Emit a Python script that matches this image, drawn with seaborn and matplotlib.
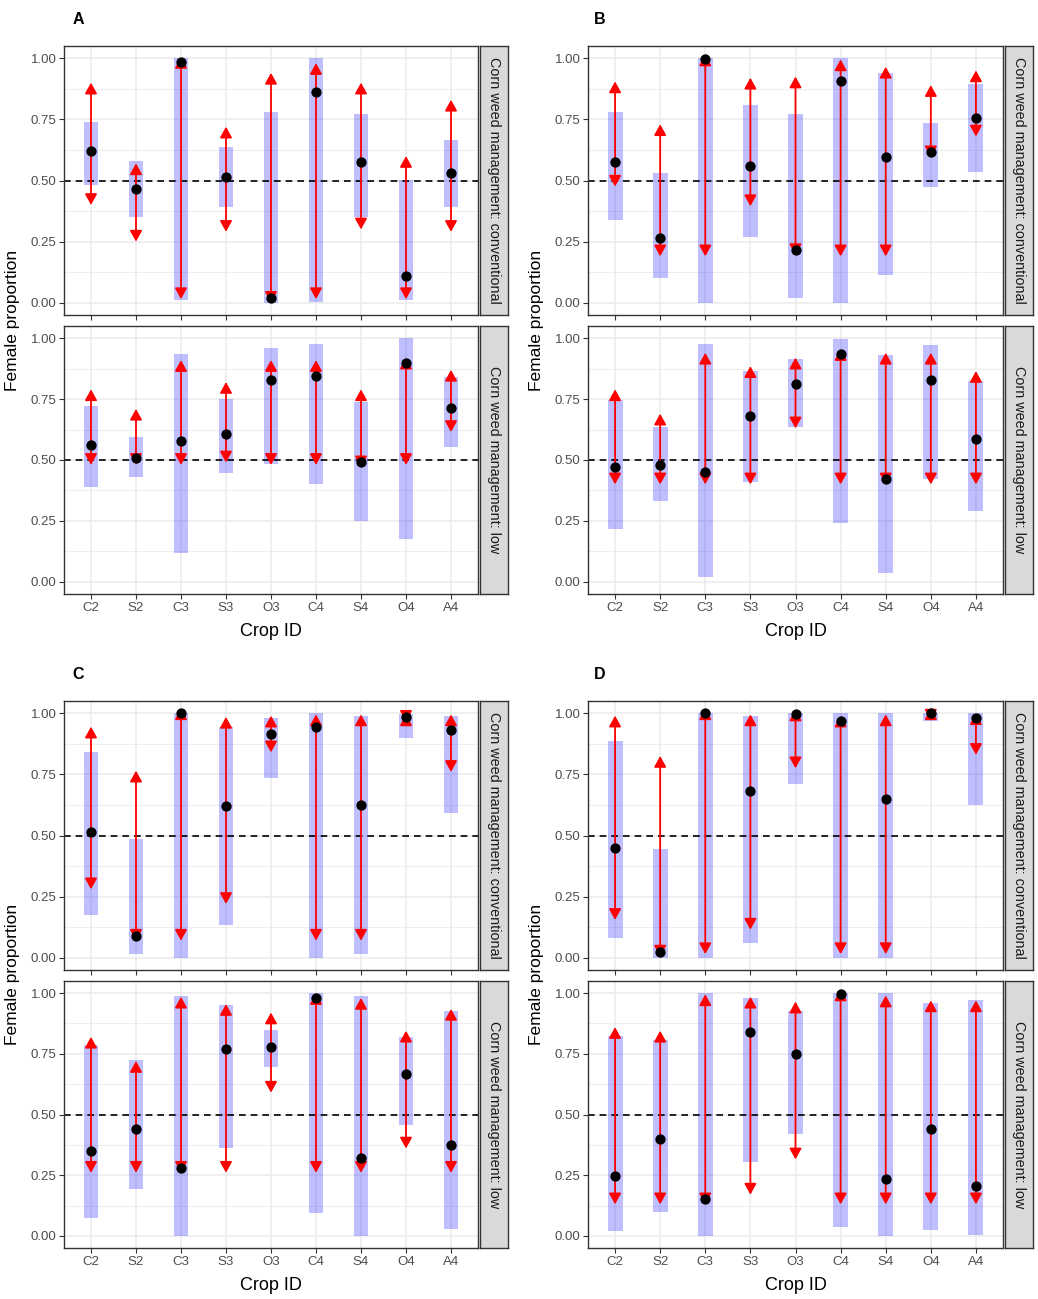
import numpy as np
import pandas as pd
import matplotlib
matplotlib.use("Agg")
import matplotlib.pyplot as plt
import seaborn as sns

sns.set_theme(style="white")
plt.rcParams['font.family'] = ['Liberation Sans', 'DejaVu Sans']

crops = ["C2", "S2", "C3", "S3", "O3", "C4", "S4", "O4", "A4"]
facets = ["Corn weed management: conventional", "Corn weed management: low"]
y_ticks = [0.0, 0.25, 0.5, 0.75, 1.0]
y_ticklabels = ["0.00", "0.25", "0.50", "0.75", "1.00"]

# ---- Panel A ----
A_conv_ci_lo = [0.48, 0.35, 0.01, 0.39, 0.00, 0.005, 0.35, 0.01, 0.39]
A_conv_ci_hi = [0.74, 0.58, 1.00, 0.635, 0.78, 1.00, 0.77, 0.50, 0.665]
A_conv_point = [0.62, 0.465, 0.985, 0.515, 0.02, 0.86, 0.575, 0.11, 0.53]
A_conv_arr_lo = [0.40, 0.25, 0.015, 0.29, 0.00, 0.015, 0.30, 0.015, 0.29]
A_conv_arr_hi = [0.90, 0.57, 1.005, 0.72, 0.94, 0.98, 0.90, 0.60, 0.83]

A_low_ci_lo = [0.39, 0.43, 0.12, 0.445, 0.485, 0.40, 0.25, 0.175, 0.555]
A_low_ci_hi = [0.72, 0.595, 0.935, 0.75, 0.96, 0.975, 0.74, 1.00, 0.84]
A_low_point = [0.56, 0.51, 0.58, 0.605, 0.83, 0.845, 0.49, 0.90, 0.715]
A_low_arr_lo = [0.48, 0.48, 0.48, 0.49, 0.48, 0.48, 0.47, 0.48, 0.615]
A_low_arr_hi = [0.79, 0.71, 0.91, 0.82, 0.91, 0.91, 0.79, 0.92, 0.87]

# ---- Panel B ----
B_conv_ci_lo = [0.34, 0.10, 0.00, 0.27, 0.02, 0.00, 0.115, 0.475, 0.535]
B_conv_ci_hi = [0.78, 0.53, 1.00, 0.81, 0.77, 1.00, 0.94, 0.735, 0.895]
B_conv_point = [0.575, 0.265, 0.995, 0.56, 0.215, 0.905, 0.595, 0.615, 0.755]
B_conv_arr_lo = [0.475, 0.19, 0.19, 0.395, 0.195, 0.19, 0.19, 0.595, 0.68]
B_conv_arr_hi = [0.905, 0.73, 1.015, 0.92, 0.925, 0.995, 0.965, 0.89, 0.95]

B_low_ci_lo = [0.215, 0.33, 0.02, 0.41, 0.635, 0.24, 0.035, 0.42, 0.29]
B_low_ci_hi = [0.745, 0.635, 0.975, 0.865, 0.915, 0.995, 0.93, 0.97, 0.825]
B_low_point = [0.47, 0.48, 0.45, 0.68, 0.81, 0.935, 0.42, 0.83, 0.585]
B_low_arr_lo = [0.40, 0.40, 0.40, 0.40, 0.63, 0.40, 0.40, 0.40, 0.40]
B_low_arr_hi = [0.79, 0.69, 0.94, 0.885, 0.92, 0.955, 0.94, 0.94, 0.865]

# ---- Panel C ----
C_conv_ci_lo = [0.175, 0.015, 0.00, 0.135, 0.735, 0.00, 0.015, 0.90, 0.59]
C_conv_ci_hi = [0.84, 0.485, 1.00, 0.945, 0.98, 1.00, 0.99, 0.995, 0.99]
C_conv_point = [0.515, 0.09, 1.00, 0.62, 0.915, 0.945, 0.625, 0.985, 0.93]
C_conv_arr_lo = [0.28, 0.07, 0.07, 0.22, 0.84, 0.07, 0.07, 0.965, 0.76]
C_conv_arr_hi = [0.945, 0.765, 1.02, 0.985, 0.99, 0.995, 0.995, 0.995, 0.995]

C_low_ci_lo = [0.075, 0.195, 0.00, 0.36, 0.695, 0.095, 0.00, 0.455, 0.03]
C_low_ci_hi = [0.785, 0.725, 0.99, 0.95, 0.85, 1.00, 0.99, 0.82, 0.925]
C_low_point = [0.35, 0.44, 0.28, 0.77, 0.78, 0.98, 0.32, 0.665, 0.375]
C_low_arr_lo = [0.26, 0.26, 0.26, 0.26, 0.59, 0.26, 0.26, 0.36, 0.26]
C_low_arr_hi = [0.82, 0.72, 0.985, 0.955, 0.92, 1.00, 0.98, 0.845, 0.935]

# ---- Panel D ----
D_conv_ci_lo = [0.08, 0.00, 0.00, 0.06, 0.71, 0.00, 0.00, 0.97, 0.625]
D_conv_ci_hi = [0.885, 0.445, 1.00, 0.99, 1.00, 1.00, 1.00, 1.00, 1.00]
D_conv_point = [0.45, 0.025, 1.00, 0.68, 0.995, 0.97, 0.65, 1.00, 0.98]
D_conv_arr_lo = [0.155, 0.005, 0.015, 0.115, 0.775, 0.015, 0.015, 0.97, 0.83]
D_conv_arr_hi = [0.99, 0.825, 1.02, 0.995, 1.015, 0.99, 0.995, 1.02, 1.00]

D_low_ci_lo = [0.02, 0.10, 0.00, 0.305, 0.42, 0.035, 0.00, 0.025, 0.005]
D_low_ci_hi = [0.825, 0.805, 1.00, 0.98, 0.925, 1.00, 1.00, 0.96, 0.97]
D_low_point = [0.245, 0.40, 0.15, 0.84, 0.75, 0.995, 0.235, 0.44, 0.205]
D_low_arr_lo = [0.13, 0.13, 0.13, 0.17, 0.315, 0.13, 0.13, 0.13, 0.13]
D_low_arr_hi = [0.86, 0.845, 0.995, 0.985, 0.965, 1.015, 0.99, 0.97, 0.97]

panel_data = {
    "A": [(A_conv_ci_lo, A_conv_ci_hi, A_conv_point, A_conv_arr_lo, A_conv_arr_hi),
          (A_low_ci_lo, A_low_ci_hi, A_low_point, A_low_arr_lo, A_low_arr_hi)],
    "B": [(B_conv_ci_lo, B_conv_ci_hi, B_conv_point, B_conv_arr_lo, B_conv_arr_hi),
          (B_low_ci_lo, B_low_ci_hi, B_low_point, B_low_arr_lo, B_low_arr_hi)],
    "C": [(C_conv_ci_lo, C_conv_ci_hi, C_conv_point, C_conv_arr_lo, C_conv_arr_hi),
          (C_low_ci_lo, C_low_ci_hi, C_low_point, C_low_arr_lo, C_low_arr_hi)],
    "D": [(D_conv_ci_lo, D_conv_ci_hi, D_conv_point, D_conv_arr_lo, D_conv_arr_hi),
          (D_low_ci_lo, D_low_ci_hi, D_low_point, D_low_arr_lo, D_low_arr_hi)],
}

W, H = 1038, 1299
fig = plt.figure(figsize=(W / 100, H / 100), dpi=100)
fig.patch.set_facecolor("white")


def add_px_axes(x0, y0, x1, y1):
    return fig.add_axes([x0 / W, 1 - y1 / H, (x1 - x0) / W, (y1 - y0) / H])


# layout in pixels: (x0, x1, [(ytop, ybot) conv, (ytop, ybot) low], label xy)
layout = {
    "A": (64, 478, [(46, 315), (326, 594)], (78, 20)),
    "B": (588, 1003, [(46, 315), (326, 594)], (600, 20)),
    "C": (64, 478, [(701, 970), (981, 1248)], (78, 674)),
    "D": (588, 1003, [(701, 970), (981, 1248)], (600, 674)),
}

GRID = "#EBEBEB"
DARK = "#333333"
TICKC = "#4D4D4D"

for key, (x0, x1, rows, lab) in layout.items():
    for fi, (yt, yb) in enumerate(rows):
        ci_lo, ci_hi, pt, a_lo, a_hi = panel_data[key][fi]
        ax = add_px_axes(x0, yt, x1, yb)
        pos = np.arange(len(crops))
        df = pd.DataFrame({"pos": pos, "crop": crops, "lo": ci_lo, "hi": ci_hi,
                           "pt": pt, "alo": a_lo, "ahi": a_hi})
        ax.set_facecolor("white")
        # grid
        for yv in [0.125, 0.375, 0.625, 0.875]:
            ax.axhline(yv, color=GRID, lw=0.6, zorder=0)
        for yv in y_ticks:
            ax.axhline(yv, color=GRID, lw=1.1, zorder=0)
        for xv in pos:
            ax.axvline(xv, color=GRID, lw=1.1, zorder=0)
        # CI bars
        ax.bar(df["pos"], np.array(df["hi"]) - np.array(df["lo"]), bottom=df["lo"],
               width=0.33, color=(0, 0, 1, 0.25), edgecolor="none", zorder=1)
        # dashed reference
        ax.axhline(0.5, color="black", lw=1.2, ls=(0, (4, 3)), zorder=2)
        # arrows
        for _, r in df.iterrows():
            ax.annotate("", xy=(r["pos"], r["ahi"]), xytext=(r["pos"], r["alo"]),
                        xycoords="data", textcoords="data",
                        arrowprops=dict(arrowstyle="<|-|>,head_length=0.65,head_width=0.36",
                                        color="red", lw=1.3, shrinkA=0, shrinkB=0,
                                        mutation_scale=10),
                        zorder=3)
        # points
        sns.scatterplot(data=df, x="pos", y="pt", ax=ax, color="black", s=55,
                        edgecolor="black", linewidth=0, zorder=4, legend=False)
        ax.set_xlim(-0.6, len(crops) - 0.4)
        ax.set_ylim(-0.05, 1.05)
        ax.set_yticks(y_ticks)
        ax.set_yticklabels(y_ticklabels)
        ax.set_xticks(pos)
        if fi == 1:
            ax.set_xticklabels(crops)
        else:
            ax.set_xticklabels([])
        ax.set_xlabel("")
        ax.set_ylabel("")
        ax.tick_params(axis="both", which="both", length=3.5, width=0.8, color=DARK,
                       labelsize=9.5, labelcolor=TICKC, pad=2, left=True, bottom=True)
        for sp in ax.spines.values():
            sp.set_color(DARK)
            sp.set_linewidth(1.0)
            sp.set_visible(True)
        ax.grid(False)
        # strip
        sax = add_px_axes(x1 + 2, yt, x1 + 30, yb)
        sax.set_facecolor("#D9D9D9")
        sax.set_xticks([])
        sax.set_yticks([])
        for sp in sax.spines.values():
            sp.set_color(DARK)
            sp.set_linewidth(1.0)
            sp.set_visible(True)
        sax.text(0.5, 0.5, facets[fi], rotation=270, ha="center", va="center",
                 fontsize=10.4, color="#1A1A1A", transform=sax.transAxes)
    # panel labels / titles
    fig.text(lab[0] / W, 1 - lab[1] / H, key, fontsize=11.5, fontweight="bold",
             ha="center", va="center", color="black")
    ytop = rows[0][0]
    ybot = rows[1][1]
    fig.text((x0 - 51) / W, 1 - ((ytop + ybot) / 2) / H, "Female proportion",
             rotation=90, ha="center", va="center", fontsize=12.5, color="black")
    fig.text(((x0 + x1) / 2) / W, 1 - (ybot + 37) / H, "Crop ID",
             ha="center", va="center", fontsize=13, color="black")

fig.savefig("out.png", dpi=100, facecolor="white")
